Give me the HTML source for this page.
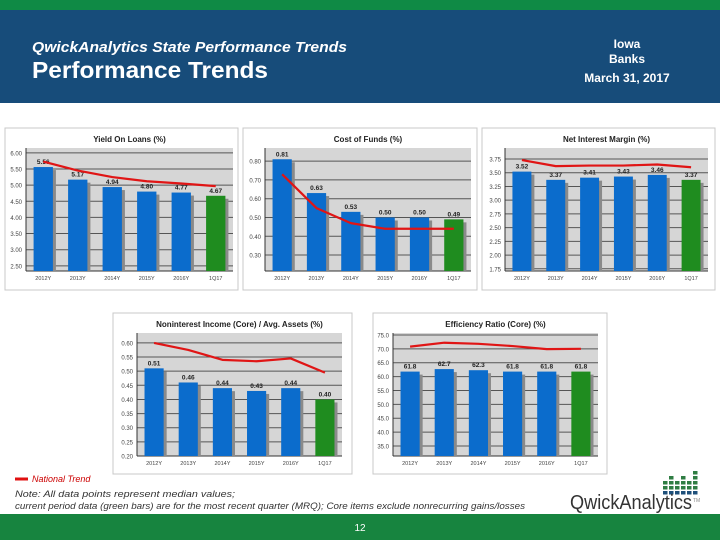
<!DOCTYPE html>
<html><head><meta charset="utf-8"><style>
body{margin:0;width:720px;height:540px;overflow:hidden;background:#fff;font-family:"Liberation Sans",sans-serif}
svg{display:block}
</style></head><body>
<svg id="s" width="720" height="540" viewBox="0 0 720 540" xmlns="http://www.w3.org/2000/svg">
<rect x="0" y="0" width="720" height="10" fill="#0f8a45"/>
<rect x="0" y="10" width="720" height="93" fill="#174c7a"/>
<text x="32" y="52" fill="#fff" font-size="15" font-style="italic" font-weight="bold" textLength="315" lengthAdjust="spacingAndGlyphs">QwickAnalytics State Performance Trends</text>
<text x="32" y="78" fill="#fff" font-size="23" font-weight="bold" textLength="236" lengthAdjust="spacingAndGlyphs">Performance Trends</text>
<text x="627" y="48" fill="#fff" font-size="12" font-weight="bold" text-anchor="middle">Iowa</text>
<text x="627" y="63" fill="#fff" font-size="12" font-weight="bold" text-anchor="middle">Banks</text>
<text x="627" y="82" fill="#fff" font-size="12" font-weight="bold" text-anchor="middle">March 31, 2017</text>
<g id="charts"></g>
<line x1="15" y1="479" x2="28" y2="479" stroke="#e01010" stroke-width="3"/>
<text x="32" y="482" fill="#c00" font-size="9" font-style="italic">National Trend</text>
<text x="15" y="497" fill="#333" font-size="9.5" font-style="italic" textLength="220" lengthAdjust="spacingAndGlyphs">Note: All data points represent median values;</text>
<text x="15" y="509" fill="#333" font-size="9.5" font-style="italic" textLength="510" lengthAdjust="spacingAndGlyphs">current period data (green bars) are for the most recent quarter (MRQ); Core items exclude nonrecurring gains/losses</text>
<g id="logo"></g>
<text x="570" y="509" fill="#333" font-size="20" textLength="122" lengthAdjust="spacingAndGlyphs">QwickAnalytics</text>
<text x="693" y="502" fill="#888" font-size="5">TM</text>
<rect x="0" y="514" width="720" height="26" fill="#17843f"/>
<text x="360" y="531" fill="#fff" font-size="10" text-anchor="middle">12</text>
</svg>
<script>
const years=["2012Y","2013Y","2014Y","2015Y","2016Y","1Q17"];
const yieldVals=[5.56,5.17,4.94,4.80,4.77,4.67];
const yieldTrend=[5.73,5.45,5.25,5.12,5.05,4.97];
const yieldTicks=[2.5,3.0,3.5,4.0,4.5,5.0,5.5,6.0];
const cofVals=[0.81,0.63,0.53,0.50,0.50,0.49];
const cofTrend=[0.73,0.55,0.47,0.44,0.44,0.44];
const cofTicks=[0.3,0.4,0.5,0.6,0.7,0.8];
const nimVals=[3.52,3.37,3.41,3.43,3.46,3.37];
const nimTrend=[3.73,3.62,3.63,3.63,3.65,3.60];
const nimTicks=[1.75,2.0,2.25,2.5,2.75,3.0,3.25,3.5,3.75];
const nonintVals=[0.51,0.46,0.44,0.43,0.44,0.40];
const nonintTrend=[0.60,0.575,0.54,0.535,0.545,0.495];
const nonintTicks=[0.2,0.25,0.3,0.35,0.4,0.45,0.5,0.55,0.6];
const effVals=[61.8,62.7,62.3,61.8,61.8,61.8];
const effTrend=[70.8,72.2,71.8,71.0,69.9,70.0];
const effTicks=[35,40,45,50,55,60,65,70,75];

const NS="http://www.w3.org/2000/svg";
const root=document.getElementById('charts');
function mk(tag,attrs,parent){const e=document.createElementNS(NS,tag);for(const k in attrs)e.setAttribute(k,attrs[k]);parent.appendChild(e);return e;}

function chart(cfg){
  const g=mk('g',{},root);
  
  
  const pn=mk('rect',{x:cfg.px,y:cfg.py,width:cfg.pw,height:cfg.ph,fill:'#fff',stroke:'#c8c8c8','stroke-width':1},g);
  
  
  const t=mk('text',{x:(cfg.l+cfg.r)/2,y:cfg.py+14,'text-anchor':'middle','font-size':8,'font-weight':'bold',fill:'#222'},g);
  t.textContent=cfg.title;
  
  
  const bg=mk('rect',{x:cfg.l,y:cfg.top,width:cfg.r-cfg.l,height:cfg.bot-cfg.top,fill:'#d6d6d6'},g);
  
  
  const y=v=>cfg.bot-(v-cfg.min)/(cfg.max-cfg.min)*(cfg.bot-cfg.top);
  const band=(cfg.r-cfg.l)/years.length;
  const x=i=>cfg.l+band*(i+0.5);
  cfg.ticks.forEach(v=>{
    const ln=mk('line',{x1:cfg.l,x2:cfg.r,y1:y(v),y2:y(v),stroke:'#555','stroke-width':1},g);
    
    
    const tl=mk('text',{x:cfg.l-4,y:y(v)+2.5,'text-anchor':'end','font-size':6,fill:'#444'},g);
    tl.textContent=v.toFixed(cfg.dec);
    
    
  });
  mk('line',{x1:cfg.l,x2:cfg.l,y1:cfg.top,y2:cfg.bot,stroke:'#333'},g);
  mk('line',{x1:cfg.l,x2:cfg.r,y1:cfg.bot,y2:cfg.bot,stroke:'#333'},g);
  const bw=band*0.56;
  cfg.vals.forEach((v,i)=>{
    const sh=mk('rect',{x:x(i)-bw/2+3,y:y(v)+3,width:bw,height:cfg.bot-y(v)-3,fill:'#8a8a8a'},g);
    
    
    const b=mk('rect',{x:x(i)-bw/2,y:y(v),width:bw,height:cfg.bot-y(v),fill:i===years.length-1?'#1f8c1f':'#0b6ccc'},g);
    
    
    const vl=mk('text',{x:x(i),y:y(v)-3,'text-anchor':'middle','font-size':6.5,'font-weight':'bold',fill:'#222'},g);
    vl.textContent=v.toFixed(cfg.vdec);
    
    
    const xl=mk('text',{x:x(i),y:cfg.bot+9,'text-anchor':'middle','font-size':5.5,fill:'#444'},g);
    xl.textContent=years[i];
    
    
  });
  const pts=cfg.trend.map((v,i)=>x(i)+','+y(v)).join(' ');
  const tr=mk('polyline',{points:pts,fill:'none',stroke:'#e01515','stroke-width':2.2,'stroke-linejoin':'round'},g);
  
  
}
chart({name:'yield-on-loans-chart',title:'Yield On Loans (%)',px:5,py:128,pw:233,ph:162,l:26,r:233,top:148,bot:271,min:2.34,max:6.15,ticks:yieldTicks,vals:yieldVals,trend:yieldTrend,dec:2,vdec:2});
chart({name:'cost-of-funds-chart',title:'Cost of Funds (%)',px:243,py:128,pw:234,ph:162,l:265,r:471,top:148,bot:271,min:0.215,max:0.87,ticks:cofTicks,vals:cofVals,trend:cofTrend,dec:2,vdec:2});
chart({name:'net-interest-margin-chart',title:'Net Interest Margin (%)',px:482,py:128,pw:233,ph:162,l:505,r:708,top:148,bot:271,min:1.71,max:3.95,ticks:nimTicks,vals:nimVals,trend:nimTrend,dec:2,vdec:2});
chart({name:'noninterest-income-chart',title:'Noninterest Income (Core) / Avg. Assets (%)',px:113,py:313,pw:239,ph:161,l:137,r:342,top:333,bot:456,min:0.2,max:0.635,ticks:nonintTicks,vals:nonintVals,trend:nonintTrend,dec:2,vdec:2});
chart({name:'efficiency-ratio-chart',title:'Efficiency Ratio (Core) (%)',px:373,py:313,pw:234,ph:161,l:393,r:598,top:333,bot:456,min:31.4,max:75.7,ticks:effTicks,vals:effVals,trend:effTrend,dec:1,vdec:1});

const logo=document.getElementById('logo');
const cols=[3,4,3,4,3,5];
cols.forEach((n,c)=>{for(let r=0;r<n;r++){
  const rc=mk('rect',{x:663+c*6,y:491-r*5,width:4.5,height:3.5,fill:r===0?'#1d4f7a':'#2f7d43'},logo);
  
  
}});
</script>
</body></html>
